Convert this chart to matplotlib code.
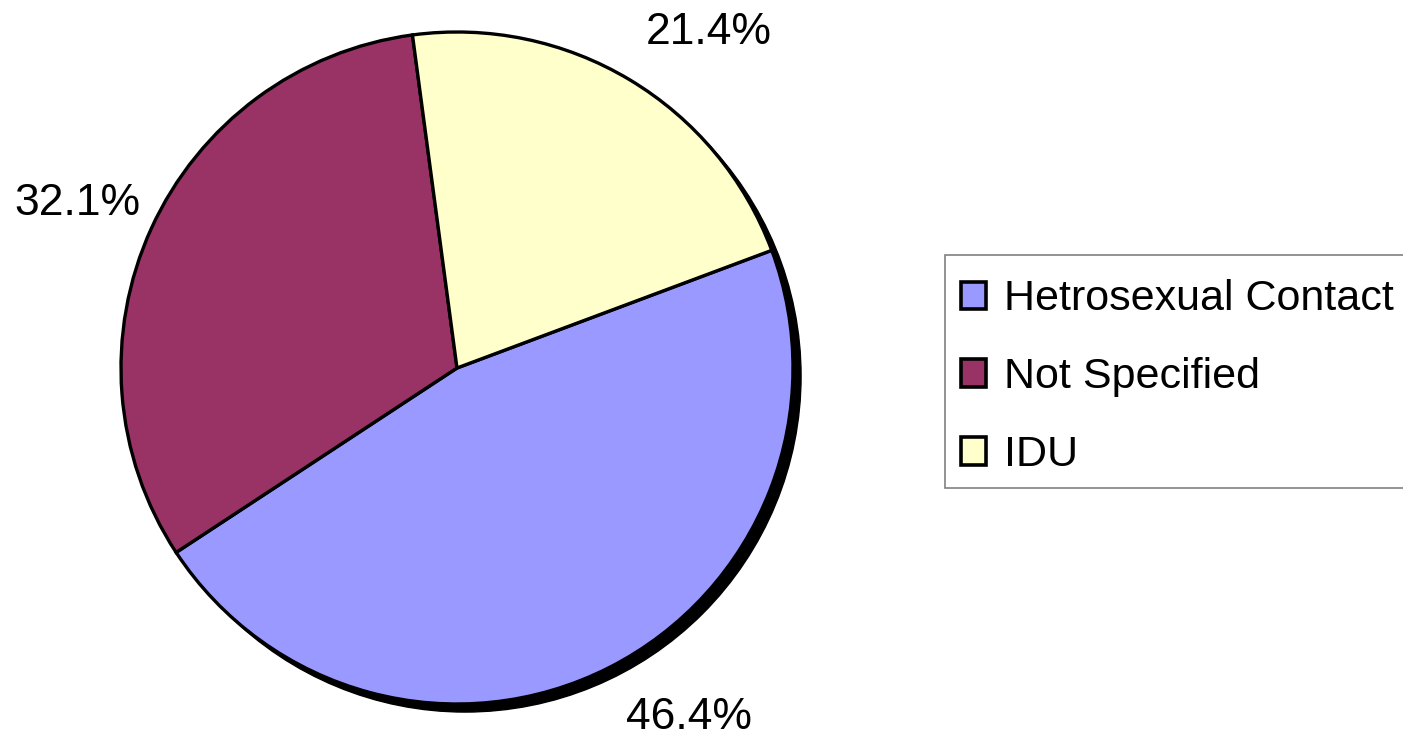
import matplotlib.pyplot as plt
from matplotlib.patches import Circle, Rectangle

plt.rcParams['font.family'] = ['Liberation Sans', 'DejaVu Sans']

labels = ['Hetrosexual Contact', 'Not Specified', 'IDU']
shares = [46.4, 32.1, 21.4]
colors = ['#9999FF', '#993366', '#FFFFCC']
# where each percentage label sits (pie radius = 1)
label_pos = [(0.69, -1.04), (-1.13, 0.49), (0.75, 1.0)]

W, H = 1403, 736
fig = plt.figure(figsize=(W / 100, H / 100), dpi=100)
ax = fig.add_axes([0, 0, 914 / W, 1])

# drop shadow to the lower right
ax.add_patch(Circle((0.024, -0.024), 1.0, color='black', zorder=0))

wedges, _ = ax.pie(shares, colors=colors, startangle=20.5, counterclock=False,
                   wedgeprops=dict(edgecolor='black', linewidth=2.4))
for w in wedges:
    w.set_zorder(1)

for (x, y), v in zip(label_pos, shares):
    ax.text(x, y, f'{v:.1f}%', fontsize=32, ha='center', va='center')

ax.set_aspect('auto')
ax.set_xlim(-457 / 336, 457 / 336)
ax.set_ylim(-368 / 336, 368 / 336)
ax.axis('off')

# legend box (runs off the right edge like the original)
fig.patches.append(Rectangle((945 / W, 1 - 488 / H), 480 / W, 233 / H,
                             transform=fig.transFigure, facecolor='white',
                             edgecolor='#808080', linewidth=1.2, zorder=0))

leg = fig.legend(wedges, labels, loc='upper left', bbox_to_anchor=(945 / W, 1 - 263 / H),
                 fontsize=31, frameon=False, borderaxespad=0,
                 handlelength=0.58, handleheight=0.6, handletextpad=0.4,
                 labelspacing=0.88, borderpad=0.38)
for h in leg.legend_handles:
    h.set_edgecolor('black')
    h.set_linewidth(2.6)

fig.savefig('out.png', dpi=100)
